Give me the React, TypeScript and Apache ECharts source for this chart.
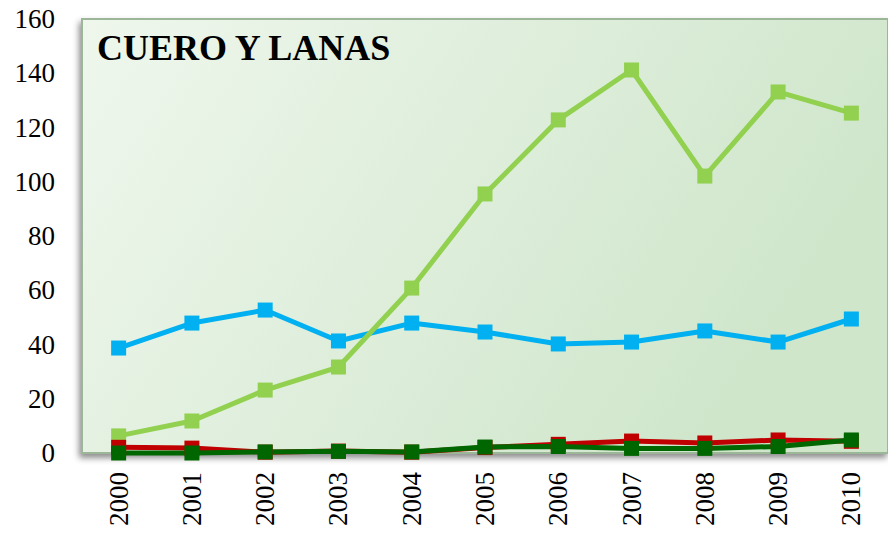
import React, { useEffect, useRef } from "react";
import * as echarts from "echarts";

const years = ["2000", "2001", "2002", "2003", "2004", "2005", "2006", "2007", "2008", "2009", "2010"];
const blueSeries = [38.7, 47.9, 52.7, 41.3, 47.9, 44.6, 40.2, 40.9, 45.0, 40.9, 49.4];
const lightGreenSeries = [6.3, 11.8, 23.2, 31.7, 60.8, 95.5, 122.8, 141.2, 102.1, 133.1, 125.3];
const redSeries = [2.1, 1.8, 0.3, 0.7, 0.3, 2.0, 3.2, 4.4, 3.7, 4.8, 4.3];
const darkGreenSeries = [0, 0, 0.4, 0.6, 0.4, 2.2, 2.4, 1.7, 1.7, 2.4, 4.8];
const title = "CUERO Y LANAS";

const FONT = "Liberation Serif";

function mkSeries(name: string, data: number[], color: string) {
  return {
    name,
    type: "line",
    data,
    symbol: "rect",
    symbolSize: 15,
    clip: false,
    lineStyle: { color, width: 5 },
    itemStyle: { color },
  };
}

export default function App() {
  const ref = useRef<HTMLDivElement>(null);
  useEffect(() => {
    if (!ref.current) return;
    const chart = echarts.init(ref.current, undefined, { renderer: "svg" });
    chart.setOption({
      animation: false,
      textStyle: { fontFamily: FONT },
      grid: {
        left: 82,
        top: 19,
        right: -6,
        bottom: 82,
        show: true,
        backgroundColor: new echarts.graphic.LinearGradient(0, 0, 1, 0.35, [
          { offset: 0, color: "#eff7ed" },
          { offset: 1, color: "#cfe6cb" },
        ]),
        borderColor: "#9cb698",
        borderWidth: 2,
        shadowColor: "rgba(0,0,0,0.45)",
        shadowBlur: 6,
        shadowOffsetX: -2,
        shadowOffsetY: 4,
      },
      xAxis: {
        type: "category",
        data: years,
        boundaryGap: true,
        axisLine: { show: false },
        axisTick: { show: false },
        axisLabel: {
          rotate: 90,
          fontSize: 27,
          fontFamily: FONT,
          color: "#000",
          margin: 19,
        },
      },
      yAxis: {
        type: "value",
        min: 0,
        max: 160,
        interval: 20,
        axisLine: { show: false },
        axisTick: { show: false },
        splitLine: { show: false },
        axisLabel: {
          fontSize: 27,
          fontFamily: FONT,
          color: "#000",
          margin: 27,
        },
      },
      graphic: [
        {
          type: "text",
          left: 97,
          top: 30,
          z: 10,
          style: {
            text: title,
            fontSize: 36,
            fontWeight: "bold",
            fontFamily: FONT,
            fill: "#000",
          },
        },
      ],
      series: [
        mkSeries("A", blueSeries, "#00b0f0"),
        mkSeries("B", lightGreenSeries, "#92d050"),
        mkSeries("C", redSeries, "#c00000"),
        mkSeries("D", darkGreenSeries, "#006600"),
      ],
    });
    return () => chart.dispose();
  }, []);
  return (
    <div
      ref={ref}
      style={{ position: "fixed", left: 0, top: 0, width: 888, height: 535, background: "#fff" }}
    />
  );
}
